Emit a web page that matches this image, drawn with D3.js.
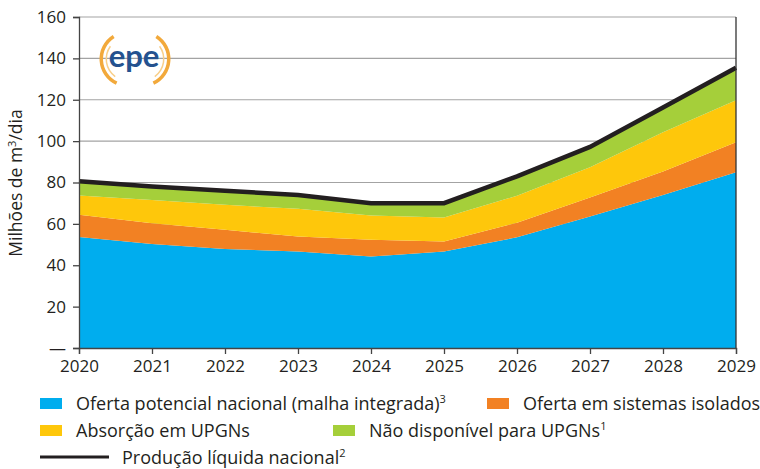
<!DOCTYPE html>
<html><head><meta charset="utf-8">
<script src="https://cdn.jsdelivr.net/npm/d3@7"></script>
<style>
html,body{margin:0;padding:0;background:#fff;}
svg{display:block;font-family:"Open Sans",Lato,sans-serif;}
</style></head>
<body><svg id="c" width="760" height="469"></svg>
<script>
// ---- data ----
const years = [2020, 2021, 2022, 2023, 2024, 2025, 2026, 2027, 2028, 2029];
const ofertaPotencial = [53.6, 50.3, 47.9, 46.7, 44.2, 46.6, 53.5, 63.6, 74.0, 85.0];
const ofertaIsolados  = [10.8, 10.0, 9.2, 7.2, 8.1, 4.9, 7.1, 9.1, 11.3, 14.5];
const absorcaoUPGN    = [9.3, 11.2, 12.1, 13.4, 11.7, 11.6, 13.0, 14.7, 19.0, 20.3];
const naoDisponivel   = [6.9, 6.6, 6.8, 6.7, 6.0, 6.9, 9.4, 9.8, 12.0, 15.7];
const producaoLiquida = [80.6, 78.1, 76.0, 74.0, 70.0, 70.0, 83.0, 97.2, 116.3, 135.5];
const yTicks = [0, 20, 40, 60, 80, 100, 120, 140, 160];
const yTickLabels = ["—", "20", "40", "60", "80", "100", "120", "140", "160"];
const seriesKeys = ["potencial", "isolados", "absorcao", "naoDisp"];
const seriesNames = ["Oferta potencial nacional (malha integrada)", "Oferta em sistemas isolados", "Absorção em UPGNs", "Não disponível para UPGNs"];
const seriesSup = ["3", "", "", "1"];
const colors = ["#00adee", "#f28123", "#fec70b", "#a5cf3a"];
const lineName = "Produção líquida nacional";
const lineSup = "2";

// ---- build table ----
const table = years.map((y, i) => ({
  year: y,
  potencial: ofertaPotencial[i],
  isolados: ofertaIsolados[i],
  absorcao: absorcaoUPGN[i],
  naoDisp: naoDisponivel[i],
  total: producaoLiquida[i]
}));

const FONT = "'Open Sans', Lato, sans-serif";
const svg = d3.select("#c");
const x = d3.scaleLinear().domain([2020, 2029]).range([79, 736]);
const y = d3.scaleLinear().domain([0, 160]).range([348, 17]);

// gridlines
svg.append("g").selectAll("line").data(yTicks.slice(1)).join("line")
  .attr("x1", x(2020)).attr("x2", x(2029))
  .attr("y1", d => y(d)).attr("y2", d => y(d))
  .attr("stroke", "#a3a3a3").attr("stroke-width", 1.2);

// stacked areas
const stack = d3.stack().keys(seriesKeys)(table);
const area = d3.area().x(d => x(d.data.year)).y0(d => y(d[0])).y1(d => y(d[1]));
svg.append("g").selectAll("path").data(stack).join("path")
  .attr("d", area).attr("fill", (d, i) => colors[i]);

// total line
const line = d3.line().x(d => x(d.year)).y(d => y(d.total));
svg.append("path").datum(table).attr("d", line)
  .attr("fill", "none").attr("stroke", "#231f20").attr("stroke-width", 4.5)
  .attr("stroke-linejoin", "miter");

// right border
svg.append("line").attr("x1", x(2029)).attr("x2", x(2029)).attr("y1", y(160)).attr("y2", y(0))
  .attr("stroke", "#333").attr("stroke-width", 1.3);

// y axis
const yAxis = d3.axisLeft(y).tickValues(yTicks).tickFormat((d, i) => yTickLabels[i]).tickSize(6).tickPadding(7);
const gy = svg.append("g").attr("transform", `translate(${x(2020)},0)`).call(yAxis);
gy.select(".domain").attr("stroke", "#444").attr("stroke-width", 1.3);
gy.selectAll(".tick line").attr("stroke", "#444").attr("stroke-width", 1.3);
gy.selectAll(".tick text").attr("font-family", FONT).attr("font-size", 17).attr("fill", "#231f20");

// x axis
const xAxis = d3.axisBottom(x).tickValues(years).tickFormat(d3.format("d")).tickSize(6).tickPadding(6);
const gx = svg.append("g").attr("transform", `translate(0,${y(0)})`).call(xAxis);
gx.select(".domain").attr("stroke", "#444").attr("stroke-width", 1.3);
gx.selectAll(".tick line").attr("stroke", "#444").attr("stroke-width", 1.3);
gx.selectAll(".tick text").attr("font-family", FONT).attr("font-size", 17).attr("fill", "#231f20");

// y title
const yt = svg.append("text").attr("transform", "translate(22,183) rotate(-90)")
  .attr("text-anchor", "middle").attr("font-size", 17.5).attr("fill", "#231f20");
yt.append("tspan").text("Milhões de m");
yt.append("tspan").attr("dy", -6).attr("font-size", 11).text("3");
yt.append("tspan").attr("dy", 6).text("/dia");

// logo
const logo = svg.append("g").attr("transform", "translate(134,59)");
const arcGen = d3.arc();
logo.append("path").attr("d", arcGen({innerRadius: 25, outerRadius: 28.5, startAngle: -Math.PI * 0.86, endAngle: -Math.PI * 0.18}))
  .attr("transform", "translate(-6,0)").attr("fill", "#f2a93b");
logo.append("path").attr("d", arcGen({innerRadius: 21, outerRadius: 22.5, startAngle: -Math.PI * 0.8, endAngle: -Math.PI * 0.3}))
  .attr("transform", "translate(-6,0)").attr("fill", "#f8cf8a");
logo.append("path").attr("d", arcGen({innerRadius: 25, outerRadius: 28.5, startAngle: Math.PI * 0.18, endAngle: Math.PI * 0.86}))
  .attr("transform", "translate(8,0)").attr("fill", "#f2a93b");
logo.append("path").attr("d", arcGen({innerRadius: 21, outerRadius: 22.5, startAngle: Math.PI * 0.3, endAngle: Math.PI * 0.8}))
  .attr("transform", "translate(8,0)").attr("fill", "#f8cf8a");
logo.append("text").attr("x", 0).attr("y", 8).attr("text-anchor", "middle")
  .attr("font-family", "Lato, sans-serif").attr("font-size", 31).attr("font-weight", 700)
  .attr("fill", "#24528f").text("epe");

// legend
const legPos = [[40, 410], [487, 410], [40, 437], [333, 437]];
const leg = svg.append("g").attr("font-size", 18).attr("fill", "#231f20");
seriesNames.forEach((name, i) => {
  const [lx, ly] = legPos[i];
  leg.append("rect").attr("x", lx).attr("y", ly - 12).attr("width", 22).attr("height", 11).attr("fill", colors[i]);
  const t = leg.append("text").attr("x", lx + 36).attr("y", ly);
  t.append("tspan").text(name);
  if (seriesSup[i]) t.append("tspan").attr("dy", -7).attr("font-size", 11).text(seriesSup[i]);
});
leg.append("line").attr("x1", 40).attr("x2", 109).attr("y1", 457).attr("y2", 457).attr("stroke", "#231f20").attr("stroke-width", 3);
const lt = leg.append("text").attr("x", 122).attr("y", 464);
lt.append("tspan").text(lineName);
lt.append("tspan").attr("dy", -7).attr("font-size", 11).text(lineSup);
</script></body></html>
